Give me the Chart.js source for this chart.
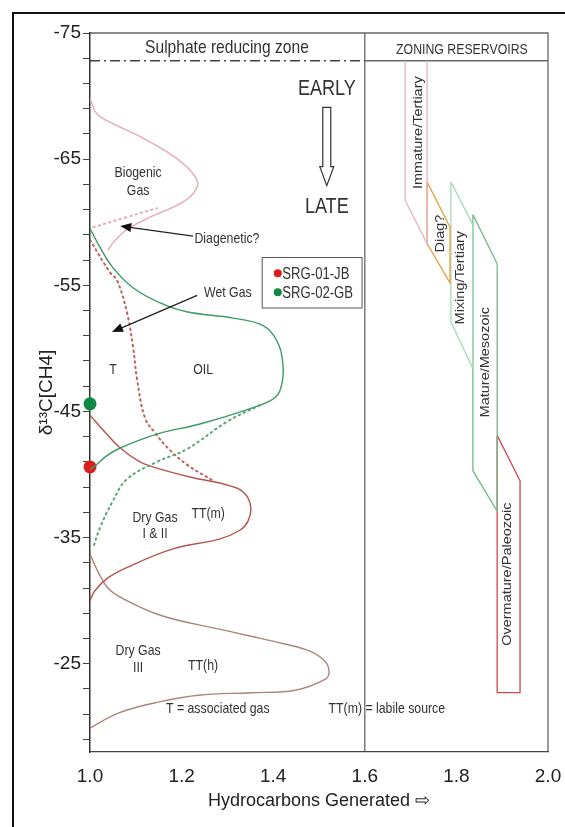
<!DOCTYPE html>
<html>
<head>
<meta charset="utf-8">
<script src="https://cdn.jsdelivr.net/npm/chart.js@4.4.0/dist/chart.umd.min.js"></script>
<style>
  html, body { margin: 0; padding: 0; background: #fff; }
</style>
</head>
<body>
<canvas id="chart" width="565" height="827"></canvas>
<script>
// axis ticks
const xTickValues = [1.0, 1.2, 1.4, 1.6, 1.8, 2.0];
const yTickValues = [-75, -73, -71, -69, -67, -65, -63, -61, -59, -57, -55, -53, -51, -49, -47, -45,
  -43, -41, -39, -37, -35, -33, -31, -29, -27, -25, -23, -21, -19];
const yLabelValues = [-75, -65, -55, -45, -35, -25];

// generation curves, [hydrocarbons generated, d13C]
const biogenicCurve = [[1.0, -69.8], [1.015, -68.6], [1.051, -67.8], [1.109, -66.8], [1.167, -65.6],
  [1.211, -64.4], [1.234, -63.3], [1.233, -62.7], [1.215, -61.9], [1.182, -61.2], [1.131, -60.4],
  [1.08, -59.4], [1.051, -58.4], [1.04, -57.8]];
const diageneticDots = [[1.007, -59.6], [1.08, -60.4], [1.146, -61.1]];
const oilCurve = [[1.0, -59.5], [1.022, -58.0], [1.05, -56.4], [1.094, -54.8], [1.153, -53.6],
  [1.211, -52.9], [1.312, -52.4], [1.378, -51.8], [1.408, -50.6], [1.421, -48.8], [1.419, -47.2],
  [1.404, -46.1], [1.356, -45.3], [1.24, -44.0], [1.146, -43.2], [1.066, -42.1], [1.037, -41.5],
  [1.015, -40.8], [1.0, -40.4]];
const oilDots = [[1.371, -45.5], [1.3, -44.2], [1.211, -42.0], [1.146, -41.0], [1.08, -39.6],
  [1.05, -37.9], [1.022, -35.8], [1.007, -34.2]];
const dryGasCurve = [[1.0, -44.7], [1.029, -43.5], [1.066, -42.1], [1.109, -41.0], [1.146, -40.5],
  [1.218, -39.8], [1.306, -39.1], [1.338, -38.5], [1.351, -37.4], [1.345, -36.3], [1.328, -35.6],
  [1.284, -34.9], [1.181, -34.1], [1.079, -32.6], [1.039, -31.8], [1.011, -30.8], [1.0, -30.0]];
const dryGasDots = [[1.0, -58.6], [1.044, -56.0], [1.059, -55.4], [1.081, -52.8], [1.094, -50.1],
  [1.103, -47.5], [1.12, -44.5], [1.142, -43.3], [1.17, -42.1], [1.211, -40.8], [1.269, -39.5]];
const dryGas3Curve = [[1.0, -33.7], [1.016, -32.4], [1.039, -31.0], [1.07, -30.2], [1.157, -28.8],
  [1.275, -27.8], [1.349, -27.2], [1.421, -26.6], [1.48, -26.0], [1.513, -25.2], [1.522, -24.4],
  [1.515, -23.8], [1.448, -22.9], [1.354, -22.7], [1.236, -22.5], [1.142, -21.9], [1.063, -21.1],
  [1.0, -19.9]];

// samples
const srg01 = [[1.0, -40.6]];
const srg02 = [[1.0, -45.6]];

// reservoir zones
const immatureZone = [[1.688, -72.8], [1.688, -61.75], [1.736, -58.3], [1.736, -72.8]];
const diagZone = [[1.736, -63.2], [1.786, -59.6], [1.786, -55.2], [1.736, -58.3], [1.736, -63.2]];
const mixingZone = [[1.788, -63.2], [1.836, -59.8], [1.836, -48.4], [1.788, -52.1], [1.788, -63.2]];
const matureZone = [[1.836, -60.6], [1.889, -56.7], [1.889, -37.1], [1.836, -40.3], [1.836, -60.6]];
const overmatureZone = [[1.889, -43.1], [1.939, -39.5], [1.939, -22.7], [1.889, -22.7], [1.889, -43.1]];

const headerY = -72.8;
const dividerX = 1.6;

const pts = arr => arr.map(([x, y]) => ({ x, y }));

const FONT = '"Liberation Sans", Arial, sans-serif';
const SQUEEZE = 0.82; // the figure's lettering is horizontally condensed

function curve(label, data, color, dotted) {
  return {
    label, data: pts(data), showLine: true, pointRadius: 0, borderColor: color,
    borderWidth: dotted ? 2 : 1.4, tension: 0.4, fill: false,
    borderDash: dotted ? [1.5, 4] : [], borderCapStyle: 'round'
  };
}
function zone(label, data, color) {
  return { label, data: pts(data), showLine: true, pointRadius: 0, borderColor: color,
    borderWidth: 1.3, tension: 0, fill: false };
}

// texts placed in data units
const notes = [
  { t: 'Sulphate reducing zone', x: 1.299, y: -73.8, size: 19 },
  { t: 'ZONING RESERVOIRS', x: 1.812, y: -73.7, size: 15 },
  { t: 'EARLY', x: 1.517, y: -70.6, size: 22 },
  { t: 'LATE', x: 1.517, y: -61.2, size: 22 },
  { t: 'Biogenic', x: 1.105, y: -63.9, size: 15 },
  { t: 'Gas', x: 1.105, y: -62.5, size: 15 },
  { t: 'Diagenetic?', x: 1.299, y: -58.7, size: 15 },
  { t: 'Wet Gas', x: 1.301, y: -54.4, size: 15 },
  { t: 'T', x: 1.05, y: -48.3, size: 15 },
  { t: 'OIL', x: 1.247, y: -48.3, size: 15 },
  { t: 'Dry Gas', x: 1.142, y: -36.6, size: 15 },
  { t: 'I & II', x: 1.142, y: -35.3, size: 15 },
  { t: 'TT(m)', x: 1.258, y: -36.9, size: 15 },
  { t: 'Dry Gas', x: 1.105, y: -26.0, size: 15 },
  { t: 'III', x: 1.105, y: -24.7, size: 15 },
  { t: 'TT(h)', x: 1.247, y: -24.8, size: 15 },
  { t: 'T = associated gas', x: 1.279, y: -21.4, size: 15 },
  { t: 'TT(m) = labile source', x: 1.648, y: -21.4, size: 15 }
];
const zoneNotes = [
  { t: 'Immature/Tertiary', x: 1.718, y: -67.1 },
  { t: 'Diag?', x: 1.766, y: -59.1 },
  { t: 'Mixing/Tertiary', x: 1.81, y: -55.6 },
  { t: 'Mature/Mesozoic', x: 1.865, y: -48.9 },
  { t: 'Overmature/Paleozoic', x: 1.913, y: -32.1 }
];
const pointers = [
  { from: [1.225, -58.9], to: [1.066, -59.7] },
  { from: [1.234, -54.2], to: [1.048, -51.3] }
];

const decor = {
  id: 'decor',
  beforeDraw(chart) {
    const { ctx, chartArea: a, scales: { x, y } } = chart;
    ctx.save();
    ctx.fillStyle = '#fff';
    ctx.fillRect(0, 0, chart.width, chart.height);
    ctx.strokeStyle = '#111';
    ctx.lineWidth = 2;
    ctx.beginPath();
    ctx.moveTo(13, chart.height);
    ctx.lineTo(13, 13);
    ctx.lineTo(chart.width, 13);
    ctx.stroke();
    // panel frame
    ctx.strokeStyle = '#666';
    ctx.lineWidth = 1.3;
    ctx.beginPath();
    ctx.moveTo(a.left, a.top); ctx.lineTo(a.right, a.top); ctx.lineTo(a.right, a.bottom);
    const dx = x.getPixelForValue(dividerX);
    ctx.moveTo(dx, a.top); ctx.lineTo(dx, a.bottom);
    const hy = y.getPixelForValue(headerY);
    ctx.moveTo(dx, hy); ctx.lineTo(a.right, hy);
    ctx.stroke();
    ctx.strokeStyle = '#444';
    ctx.setLineDash([10, 4, 2, 4]);
    ctx.beginPath();
    ctx.moveTo(a.left, hy); ctx.lineTo(dx, hy);
    ctx.stroke();
    ctx.restore();
  },
  afterDatasetsDraw(chart) {
    const { ctx, scales: { x, y } } = chart;
    const X = v => x.getPixelForValue(v), Y = v => y.getPixelForValue(v);
    ctx.save();
    ctx.fillStyle = '#333';
    ctx.textAlign = 'center';
    ctx.textBaseline = 'middle';
    notes.forEach(n => {
      ctx.save();
      ctx.font = n.size + 'px ' + FONT;
      ctx.translate(X(n.x), Y(n.y));
      ctx.scale(SQUEEZE, 1);
      ctx.fillText(n.t, 0, 0);
      ctx.restore();
    });
    ctx.font = '14.5px ' + FONT;
    zoneNotes.forEach(n => {
      ctx.save();
      ctx.translate(X(n.x), Y(n.y));
      ctx.scale(SQUEEZE, 1);
      ctx.rotate(-Math.PI / 2);
      ctx.fillText(n.t, 0, 0);
      ctx.restore();
    });
    // pointer arrows
    ctx.strokeStyle = '#222';
    ctx.fillStyle = '#111';
    ctx.lineWidth = 1.3;
    pointers.forEach(p => {
      const x0 = X(p.from[0]), y0 = Y(p.from[1]), x1 = X(p.to[0]), y1 = Y(p.to[1]);
      const ang = Math.atan2(y1 - y0, x1 - x0);
      ctx.beginPath(); ctx.moveTo(x0, y0); ctx.lineTo(x1 - 8 * Math.cos(ang), y1 - 8 * Math.sin(ang)); ctx.stroke();
      ctx.beginPath();
      ctx.moveTo(x1, y1);
      ctx.lineTo(x1 - 11 * Math.cos(ang) + 4.5 * Math.sin(ang), y1 - 11 * Math.sin(ang) - 4.5 * Math.cos(ang));
      ctx.lineTo(x1 - 11 * Math.cos(ang) - 4.5 * Math.sin(ang), y1 - 11 * Math.sin(ang) + 4.5 * Math.cos(ang));
      ctx.closePath(); ctx.fill();
    });
    // hollow EARLY -> LATE arrow
    const ax = X(1.517), aTop = Y(-69.1), aNeck = Y(-64.4), aTip = Y(-62.9);
    ctx.strokeStyle = '#333';
    ctx.lineWidth = 1.2;
    ctx.beginPath();
    ctx.moveTo(ax - 4, aTop); ctx.lineTo(ax + 4, aTop); ctx.lineTo(ax + 4, aNeck);
    ctx.lineTo(ax + 7, aNeck); ctx.lineTo(ax, aTip); ctx.lineTo(ax - 7, aNeck);
    ctx.lineTo(ax - 4, aNeck); ctx.closePath();
    ctx.stroke();
    // legend
    const lx0 = X(1.376), ly0 = Y(-57.2), lx1 = X(1.594), ly1 = Y(-53.2);
    ctx.strokeStyle = '#555';
    ctx.lineWidth = 1;
    ctx.strokeRect(lx0, ly0, lx1 - lx0, ly1 - ly0);
    const items = chart.data.datasets.filter(d => d.legendEntry);
    items.forEach((d, i) => {
      const cy = Y(i === 0 ? -55.95 : -54.45);
      ctx.fillStyle = d.backgroundColor;
      ctx.beginPath(); ctx.arc(X(1.41), cy, 4, 0, Math.PI * 2); ctx.fill();
      ctx.save();
      ctx.fillStyle = '#333';
      ctx.textAlign = 'left';
      ctx.font = '16px ' + FONT;
      ctx.translate(X(1.42), cy + 1);
      ctx.scale(SQUEEZE, 1);
      ctx.fillText(d.label, 0, 0);
      ctx.restore();
    });
    ctx.restore();
  }
};

new Chart(document.getElementById('chart'), {
  type: 'scatter',
  data: {
    datasets: [
      curve('Biogenic gas', biogenicCurve, '#e9a9b2', false),
      curve('Diagenetic', diageneticDots, '#e9a9b2', true),
      curve('Oil', oilCurve, '#3b9a66', false),
      curve('Oil trend', oilDots, '#5aa578', true),
      curve('Dry gas I & II', dryGasCurve, '#b5544c', false),
      curve('Dry gas trend', dryGasDots, '#c0605a', true),
      curve('Dry gas III', dryGas3Curve, '#a9857a', false),
      zone('Immature/Tertiary', immatureZone, '#e8b4bc'),
      zone('Diag?', diagZone, '#e2a445'),
      zone('Mixing/Tertiary', mixingZone, '#a9d8b9'),
      zone('Mature/Mesozoic', matureZone, '#74b98c'),
      zone('Overmature/Paleozoic', overmatureZone, '#d2454c'),
      { label: 'SRG-01-JB', data: pts(srg01), pointRadius: 6.5, backgroundColor: '#dd1c1c',
        borderWidth: 0, clip: false, legendEntry: true },
      { label: 'SRG-02-GB', data: pts(srg02), pointRadius: 6.5, backgroundColor: '#0e8a44',
        borderWidth: 0, clip: false, legendEntry: true }
    ]
  },
  options: {
    responsive: false,
    animation: false,
    layout: { padding: { top: 33, right: 17, left: 0, bottom: 0 } },
    plugins: { legend: { display: false }, tooltip: { enabled: false } },
    scales: {
      x: {
        type: 'linear', min: 1, max: 2,
        afterBuildTicks: s => { s.ticks = xTickValues.map(v => ({ value: v })); },
        afterFit: s => { s.height = 75; s.paddingLeft = 0; s.paddingRight = 0; },
        ticks: { callback: v => v.toFixed(1), font: { size: 19, family: FONT }, color: '#222', padding: 13 },
        grid: { display: false, drawTicks: false },
        border: { color: '#444', width: 1.3 },
        title: { display: true, text: 'Hydrocarbons Generated ⇨', font: { size: 18, family: FONT },
          color: '#222', padding: { top: 0, bottom: 15 } }
      },
      y: {
        type: 'linear', reverse: true, min: -75, max: -18,
        afterBuildTicks: s => { s.ticks = yTickValues.map(v => ({ value: v })); },
        afterFit: s => { s.width = 90; s.paddingTop = 0; s.paddingBottom = 0; },
        ticks: { autoSkip: false, callback: v => yLabelValues.includes(v) ? String(v) : '',
          font: { size: 19, family: FONT }, color: '#222', padding: 2 },
        grid: { drawOnChartArea: false, tickLength: 7, color: '#444', lineWidth: 1 },
        border: { color: '#333', width: 1.5 },
        title: { display: true, text: 'δ¹³C[CH4]', font: { size: 19, family: FONT },
          color: '#222', padding: { top: 35, bottom: 0 } }
      }
    }
  },
  plugins: [decor]
});
</script>
</body>
</html>
